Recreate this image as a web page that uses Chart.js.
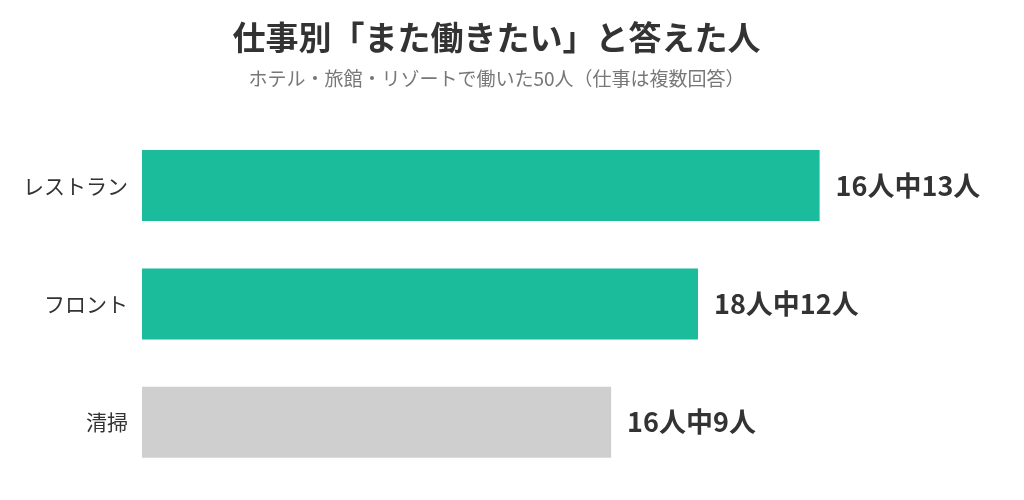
<!DOCTYPE html>
<html><head><meta charset="utf-8">
<script src="https://cdn.jsdelivr.net/npm/chart.js@4"></script>
<style>body{margin:0;background:#fff}#wrap{width:1024px;height:500px}</style>
</head><body><div id="wrap"><canvas id="c"></canvas></div>
<script>
const jobs = ['レストラン', 'フロント', '清掃'];
const yes = [13, 12, 9];
const asked = [16, 18, 16];
const colors = ['#1ABC9C', '#1ABC9C', '#CFCFCF'];
const pct = yes.map((v, i) => v / asked[i] * 100);
const font = "'Noto Sans CJK JP', sans-serif";

const endLabels = {
  id: 'endLabels',
  afterDatasetsDraw(chart) {
    const ctx = chart.ctx;
    ctx.save();
    ctx.font = `bold 27px ${font}`;
    ctx.fillStyle = '#333';
    ctx.textBaseline = 'middle';
    chart.getDatasetMeta(0).data.forEach((bar, i) => {
      ctx.fillText(`${asked[i]}人中${yes[i]}人`, bar.x + 16, bar.y);
    });
    ctx.restore();
  }
};

new Chart(document.getElementById('c'), {
  type: 'bar',
  data: {
    labels: jobs,
    datasets: [{ data: pct, backgroundColor: colors, barPercentage: 0.6, categoryPercentage: 1 }]
  },
  options: {
    indexAxis: 'y',
    responsive: true,
    maintainAspectRatio: false,
    animation: false,
    layout: { padding: { left: 17, right: 48, bottom: -4 } },
    scales: {
      x: { min: 0, max: 100, display: false },
      y: {
        grid: { display: false },
        border: { display: false },
        ticks: { color: '#333', font: { family: font, size: 21 }, padding: 6 }
      }
    },
    plugins: {
      legend: { display: false },
      tooltip: { enabled: false },
      title: {
        display: true,
        text: '仕事別「また働きたい」と答えた人',
        color: '#333',
        font: { family: font, size: 33, weight: 'bold' },
        padding: { top: 18, bottom: 10 }
      },
      subtitle: {
        display: true,
        text: 'ホテル・旅館・リゾートで働いた50人（仕事は複数回答）',
        color: '#777',
        font: { family: font, size: 19 },
        padding: { bottom: 36 }
      }
    }
  },
  plugins: [endLabels]
});
</script></body></html>
